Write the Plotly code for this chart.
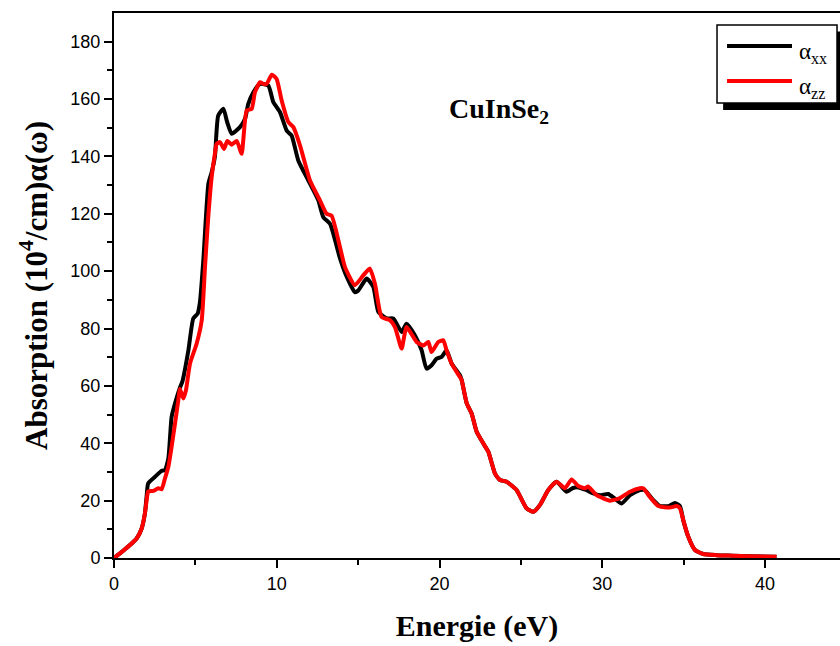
import plotly.graph_objects as go

# ---- data ----
energy_xx = [0, 0.37, 0.98, 1.39, 1.70, 1.90, 2.01, 2.10, 2.52, 2.93, 3.13, 3.34, 3.54, 3.75,
             4.05, 4.20, 4.57, 4.87, 5.14, 5.28, 5.49, 5.80, 6.00, 6.20, 6.40, 6.72, 6.95, 7.23,
             7.74, 8.05, 8.25, 8.56, 8.97, 9.48, 9.79, 10.2, 10.61, 10.91, 11.32, 11.94, 12.55,
             12.86, 13.27, 13.88, 14.19, 14.80, 15.0, 15.52, 15.93, 16.24, 16.75, 17.16, 17.67,
             17.97, 18.49, 18.90, 19.20, 19.51, 19.82, 20.13, 20.43, 20.74, 21.25, 21.36, 21.67,
             21.97, 22.28, 22.69, 23.0, 23.4, 23.71, 24.12, 24.73, 25.35, 25.76, 26.17, 26.68,
             27.19, 27.80, 28.2, 28.52, 29.0, 29.44, 29.85, 30.36, 30.77, 31.18, 31.70, 32.31,
             32.6, 33.13, 33.54, 34.05, 34.46, 34.77, 34.97, 35.28, 35.69, 36.2, 37.0, 38.0,
             39.0, 40.7]
alpha_xx = [0, 1.6, 4.5, 6.8, 10.3, 15.6, 21.9, 26.0, 28.3, 30.4, 30.6, 34.7, 49.2, 53.9,
            59.4, 61.5, 72.4, 83.5, 85.2, 89.2, 104.0, 130.5, 134.5, 140.0, 154.2, 156.6, 152.0,
            147.9, 150.2, 153.1, 158.3, 162.4, 165.3, 164.7, 158.9, 155.4, 149.0, 147.3, 138.6,
            131.6, 124.7, 118.8, 116.5, 104.5, 99.5, 92.7, 93.2, 97.4, 94.5, 85.8, 83.5, 83.5,
            78.8, 81.7, 77.6, 72.4, 66.0, 67.2, 69.5, 70.1, 72.4, 67.8, 63.7, 62.0, 53.9, 50.4,
            44.0, 39.9, 37.0, 29.5, 27.2, 26.6, 23.7, 17.3, 16.1, 18.5, 23.7, 26.6, 23.1, 24.4,
            24.6, 23.7, 22.5, 21.9, 22.3, 20.7, 19.0, 21.9, 23.7, 23.7, 20.2, 18.1, 18.1, 19.2,
            18.1, 13.2, 7.4, 2.8, 1.4, 1.0, 0.8, 0.6, 0.4]

energy_zz = [0, 0.37, 0.98, 1.39, 1.70, 1.90, 2.05, 2.10, 2.42, 2.72, 2.93, 3.13, 3.34, 3.54,
             3.75, 3.95, 4.05, 4.26, 4.42, 4.67, 5.08, 5.39, 5.59, 5.79, 6.0, 6.2, 6.31, 6.51,
             6.76, 6.96, 7.23, 7.54, 7.84, 8.15, 8.46, 8.66, 8.97, 9.17, 9.38, 9.69, 9.99, 10.30,
             10.71, 11.02, 11.43, 12.04, 12.65, 13.06, 13.37, 13.88, 14.19, 14.80, 15.31, 15.72,
             16.03, 16.44, 16.95, 17.26, 17.67, 17.97, 18.59, 19.0, 19.31, 19.51, 19.92, 20.23,
             20.43, 20.74, 21.25, 21.36, 21.67, 21.97, 22.28, 22.69, 23.0, 23.4, 23.71, 24.12,
             24.73, 25.35, 25.76, 26.17, 26.68, 27.19, 27.70, 28.11, 28.52, 28.93, 29.13, 29.65,
             30.47, 31.08, 31.70, 32.31, 32.51, 32.92, 33.44, 34.15, 34.56, 34.77, 34.97, 35.28,
             35.69, 36.2, 37.0, 38.0, 39.0, 40.7]
alpha_zz = [0, 1.6, 4.5, 6.8, 10.3, 15.6, 22.0, 23.2, 23.4, 24.3, 24.0, 27.7, 31.8, 38.8,
            46.9, 55.0, 58.9, 55.6, 58.5, 67.8, 74.8, 82.9, 101.4, 118.8, 132.8, 141.0, 144.4,
            145.0, 142.6, 145.4, 144.1, 145.4, 140.9, 156.0, 156.6, 162.4, 165.9, 165.3, 165.3,
            168.5, 167.0, 159.5, 152.0, 150.2, 143.8, 131.6, 124.7, 120.0, 119.3, 108.4, 101.4,
            95.1, 98.5, 100.9, 95.6, 84.0, 82.9, 80.5, 73.0, 80.5, 75.3, 74.1, 75.3, 71.8, 75.3,
            75.9, 72.4, 67.8, 63.1, 62.0, 53.9, 50.4, 44.0, 39.9, 37.0, 29.5, 27.2, 26.6, 23.7,
            17.3, 16.1, 18.5, 23.7, 26.6, 24.3, 27.4, 25.1, 24.3, 24.9, 21.9, 20.0, 20.9, 23.1,
            24.3, 24.3, 21.3, 18.1, 17.6, 18.1, 17.3, 13.2, 7.4, 2.8, 1.4, 1.0, 0.8, 0.6, 0.4]

series_names = ["α<sub>xx</sub>", "α<sub>zz</sub>"]
series_colors = ["black", "#ff0000"]

x_ticks = [0, 10, 20, 30, 40]
y_ticks = [0, 20, 40, 60, 80, 100, 120, 140, 160, 180]

fig = go.Figure()
fig.add_trace(go.Scatter(x=energy_xx, y=alpha_xx, mode="lines", name=series_names[0],
                         showlegend=False,
                         line=dict(color=series_colors[0], width=4, shape="spline", smoothing=0.5)))
fig.add_trace(go.Scatter(x=energy_zz, y=alpha_zz, mode="lines", name=series_names[1],
                         showlegend=False,
                         line=dict(color=series_colors[1], width=4, shape="spline", smoothing=0.5)))

serif = "Liberation Serif, Times New Roman, serif"
tick_font = dict(family="Liberation Sans, Arial", size=18, color="black")

# legend box drawn in paper coordinates (box with drop shadow, like the original)
shapes = [
    dict(type="rect", xref="paper", yref="paper", x0=0.839, x1=1.01, y0=0.822, y1=0.966,
         fillcolor="black", line=dict(width=0), layer="above"),
    dict(type="rect", xref="paper", yref="paper", x0=0.8306, x1=0.9959, y0=0.835, y1=0.978,
         fillcolor="white", line=dict(color="black", width=1.5), layer="above"),
]
annotations = []
legend_rows_y = [0.9394, 0.8752]
for name, color, ly in zip(series_names, series_colors, legend_rows_y):
    shapes.append(dict(type="line", xref="paper", yref="paper", x0=0.8444, x1=0.9339, y0=ly, y1=ly,
                       line=dict(color=color, width=4), layer="above"))
    annotations.append(dict(text=name, x=0.941, y=ly - 0.012, xref="paper", yref="paper",
                            showarrow=False, xanchor="left", yanchor="middle",
                            font=dict(family=serif, size=23, color="black")))

annotations.append(dict(text="<b>CuInSe<sub>2</sub></b>", x=0.530, y=0.822, xref="paper", yref="paper",
                        showarrow=False, xanchor="center", yanchor="middle",
                        font=dict(family=serif, size=28, color="black")))

fig.update_layout(
    width=840, height=646,
    margin=dict(l=114, r=0, t=13, b=88),
    paper_bgcolor="white", plot_bgcolor="white",
    showlegend=False,
    xaxis=dict(range=[0, 44.6], tickvals=x_ticks, ticktext=[str(v) for v in x_ticks],
               showgrid=False, zeroline=False, showline=True, linecolor="black", linewidth=2,
               mirror=True, ticks="outside", ticklen=8, tickwidth=2, tickcolor="black",
               minor=dict(tickvals=[5, 15, 25, 35], ticks="outside", ticklen=5, tickwidth=2,
                          tickcolor="black"),
               tickfont=tick_font,
               title=dict(text="<b>Energie (eV)</b>", font=dict(family=serif, size=30, color="black"),
                          standoff=22)),
    yaxis=dict(range=[0, 190], tickvals=y_ticks, ticktext=[str(v) for v in y_ticks],
               showgrid=False, zeroline=False, showline=True, linecolor="black", linewidth=2,
               mirror=False, ticks="outside", ticklen=8, tickwidth=2, tickcolor="black",
               minor=dict(tickvals=[10, 30, 50, 70, 90, 110, 130, 150, 170], ticks="outside",
                          ticklen=5, tickwidth=2, tickcolor="black"),
               tickfont=tick_font,
               title=dict(text="<b>Absorption (10<sup>4</sup>/cm)α(ω)</b>",
                          font=dict(family=serif, size=31, color="black"), standoff=14)),
    annotations=annotations,
    shapes=shapes,
)

fig.write_html("out.html")
